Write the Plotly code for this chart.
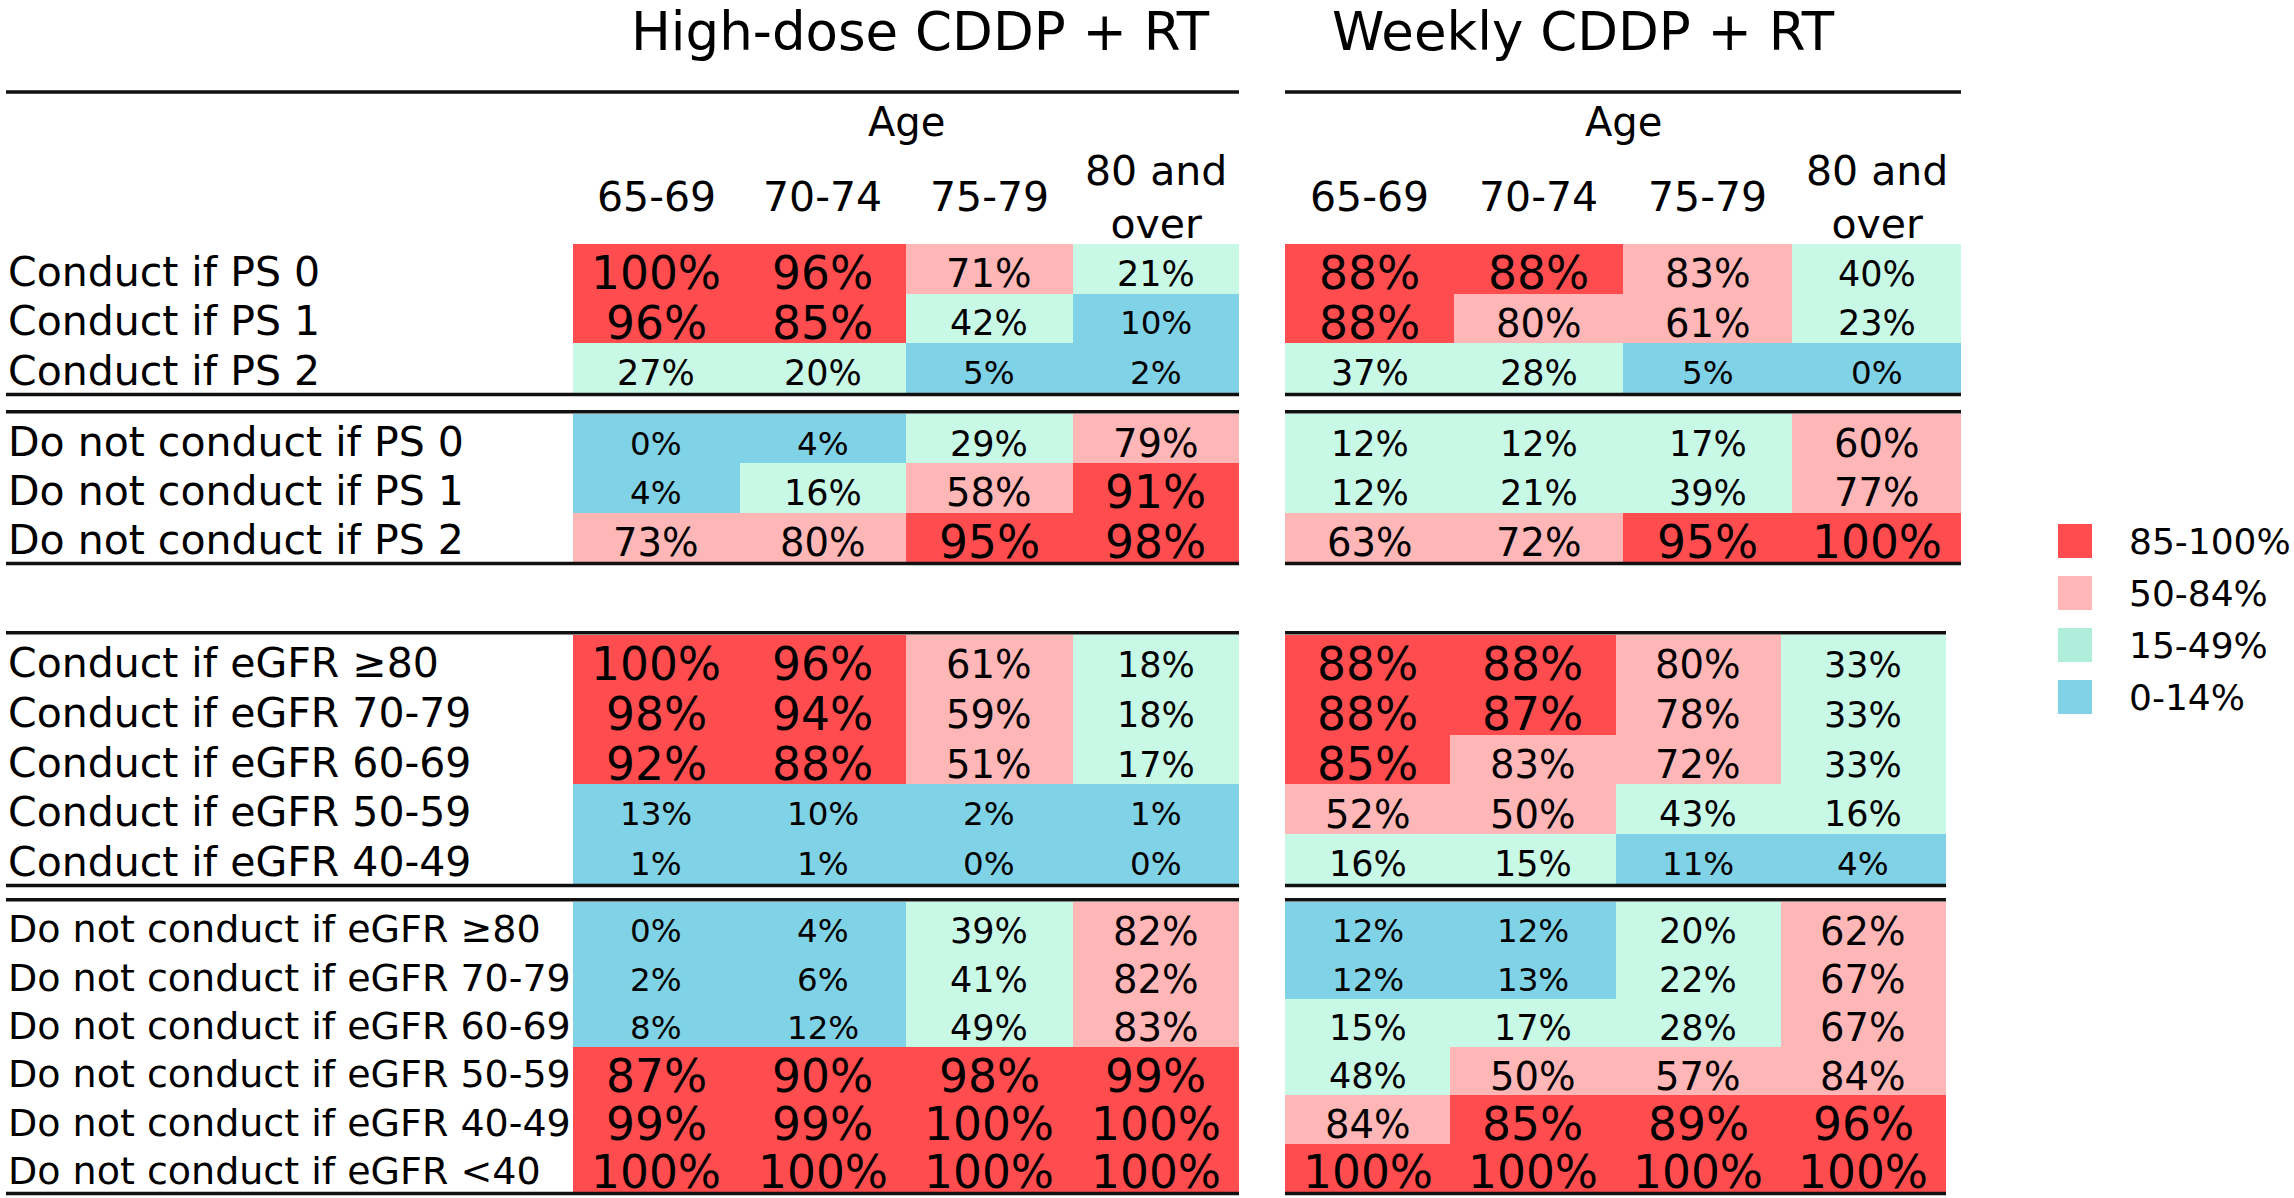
import plotly.graph_objects as go

# ---------------------------------------------------------------- data
AGES = ["65-69", "70-74", "75-79", "80 and over"]
AGE_HEADERS = ["65-69", "70-74", "75-79", "80 and<br>over"]
TABLE_TITLES = ["High-dose CDDP + RT", "Weekly CDDP + RT"]
AXIS_TITLE = "Age"

PS_CONDUCT_ROWS = ["Conduct if PS 0", "Conduct if PS 1", "Conduct if PS 2"]
PS_NOT_ROWS = ["Do not conduct if PS 0", "Do not conduct if PS 1", "Do not conduct if PS 2"]
EGFR_CONDUCT_ROWS = ["Conduct if eGFR \u226580", "Conduct if eGFR 70-79", "Conduct if eGFR 60-69",
                     "Conduct if eGFR 50-59", "Conduct if eGFR 40-49"]
EGFR_NOT_ROWS = ["Do not conduct if eGFR \u226580", "Do not conduct if eGFR 70-79",
                 "Do not conduct if eGFR 60-69", "Do not conduct if eGFR 50-59",
                 "Do not conduct if eGFR 40-49", "Do not conduct if eGFR <40"]

HIGH_PS_CONDUCT = [[100, 96, 71, 21], [96, 85, 42, 10], [27, 20, 5, 2]]
HIGH_PS_NOT = [[0, 4, 29, 79], [4, 16, 58, 91], [73, 80, 95, 98]]
HIGH_EGFR_CONDUCT = [[100, 96, 61, 18], [98, 94, 59, 18], [92, 88, 51, 17], [13, 10, 2, 1], [1, 1, 0, 0]]
HIGH_EGFR_NOT = [[0, 4, 39, 82], [2, 6, 41, 82], [8, 12, 49, 83], [87, 90, 98, 99],
                 [99, 99, 100, 100], [100, 100, 100, 100]]

WEEKLY_PS_CONDUCT = [[88, 88, 83, 40], [88, 80, 61, 23], [37, 28, 5, 0]]
WEEKLY_PS_NOT = [[12, 12, 17, 60], [12, 21, 39, 77], [63, 72, 95, 100]]
WEEKLY_EGFR_CONDUCT = [[88, 88, 80, 33], [88, 87, 78, 33], [85, 83, 72, 33], [52, 50, 43, 16], [16, 15, 11, 4]]
WEEKLY_EGFR_NOT = [[12, 12, 20, 62], [12, 13, 22, 67], [15, 17, 28, 67], [48, 50, 57, 84],
                   [84, 85, 89, 96], [100, 100, 100, 100]]

SHADE_LABELS = ["0-14%", "15-49%", "50-84%", "85-100%"]
SHADE_LOWER = [0, 15, 50, 85]
# cells that the source figure shades in a different band than their value suggests
# (table, group, row, column) -> band index
SHADE_OVERRIDES = {(1, 1, 0, 0): 1, (1, 1, 0, 1): 1, (1, 1, 1, 0): 1}

# ---------------------------------------------------------------- style
W, H = 2294, 1198
FONT = "DejaVu Sans"
CELL_COLORS = ["#80D3E6", "#C8F8E6", "#FFB6B6", "#FF4D4F"]
LEGEND_COLORS = ["#80D3E6", "#AEEEDA", "#FFB6B6", "#FF4D4F"]
VALUE_FONT = [32.5, 35, 38.5, 45.5]
LABEL_FONT = [41, 41, 41, 38]
LINE_COLOR = "#111111"
VALUE_SHIFT = -5
LABEL_SHIFT = -3

TABLE_X_UPPER = [(573, 1239), (1285, 1961)]
TABLE_X_LOWER = [(573, 1239), (1285, 1946)]
LABEL_X = 6
GROUP_Y = [(244, 393), (414, 562), (635, 884), (902, 1192)]

GROUPS = [
    (PS_CONDUCT_ROWS, HIGH_PS_CONDUCT, WEEKLY_PS_CONDUCT),
    (PS_NOT_ROWS, HIGH_PS_NOT, WEEKLY_PS_NOT),
    (EGFR_CONDUCT_ROWS, HIGH_EGFR_CONDUCT, WEEKLY_EGFR_CONDUCT),
    (EGFR_NOT_ROWS, HIGH_EGFR_NOT, WEEKLY_EGFR_NOT),
]


def px(x):
    return x / W


def py(y):
    return 1 - y / H


def band(v):
    b = 0
    for i, lo in enumerate(SHADE_LOWER):
        if v >= lo:
            b = i
    return b


n = len(SHADE_LABELS)
colorscale = []
for i, c in enumerate(CELL_COLORS):
    colorscale.append([i / n, c])
    colorscale.append([(i + 1) / n, c])

fig = go.Figure()
layout = dict(
    width=W, height=H, margin=dict(l=0, r=0, t=0, b=0),
    paper_bgcolor="white", plot_bgcolor="white", showlegend=False,
    font=dict(family=FONT, color="black"),
)
annotations = []
shapes = []

ax = 0
for g, (rows, *tables) in enumerate(GROUPS):
    y0, y1 = GROUP_Y[g]
    for t, vals in enumerate(tables):
        ax += 1
        xs = TABLE_X_UPPER[t] if g < 2 else TABLE_X_LOWER[t]
        xname = "x" if ax == 1 else f"x{ax}"
        yname = "y" if ax == 1 else f"y{ax}"
        z = []
        for r, rowvals in enumerate(vals):
            zr = []
            for c, v in enumerate(rowvals):
                b = SHADE_OVERRIDES.get((t, g, r, c), band(v))
                zr.append(b)
                annotations.append(dict(
                    text=f"{v}%", xref=xname, x=AGES[c], xanchor="center",
                    yref=yname, y=rows[r], yanchor="middle", yshift=VALUE_SHIFT,
                    showarrow=False, font=dict(family=FONT, size=VALUE_FONT[b], color="black")))
            z.append(zr)
        fig.add_trace(go.Heatmap(
            x=AGES, y=rows, z=z, zmin=-0.5, zmax=n - 0.5, colorscale=colorscale,
            showscale=False, hoverinfo="skip", xaxis=xname, yaxis=yname,
        ))
        layout["xaxis" if ax == 1 else f"xaxis{ax}"] = dict(
            domain=[px(xs[0]), px(xs[1])], anchor=yname, visible=False,
            type="category", range=[-0.5, len(AGES) - 0.5], fixedrange=True)
        layout["yaxis" if ax == 1 else f"yaxis{ax}"] = dict(
            domain=[py(y1), py(y0)], anchor=xname, visible=False,
            type="category", range=[len(rows) - 0.5, -0.5], fixedrange=True)

        # row labels (left table only)
        if t == 0:
            for rlab in rows:
                annotations.append(dict(
                    text=rlab, xref="paper", x=px(LABEL_X), xanchor="left",
                    yref=yname, y=rlab, yanchor="middle", yshift=LABEL_SHIFT, showarrow=False,
                    font=dict(family=FONT, size=LABEL_FONT[g], color="black")))
        # column headers (top group only)
        if g == 0:
            for a, lab in zip(AGES, AGE_HEADERS):
                annotations.append(dict(
                    text=lab, xref=xname, x=a, xanchor="center", yref="paper", y=py(197),
                    yanchor="middle", showarrow=False,
                    font=dict(family=FONT, size=41, color="black")))
            annotations.append(dict(
                text=AXIS_TITLE, xref="paper", x=px((xs[0] + xs[1]) / 2), xanchor="center",
                yref="paper", y=py(122), yanchor="middle", showarrow=False,
                font=dict(family=FONT, size=40, color="black")))

        # table rules
        lx0 = LABEL_X if t == 0 else xs[0]
        lx1 = xs[1]
        rule = dict(type="line", xref="paper", yref="paper", x0=px(lx0), x1=px(lx1),
                    line=dict(color=LINE_COLOR, width=3.5))
        shapes.append({**rule, "y0": py(y1 + 1.5), "y1": py(y1 + 1.5)})
        if g > 0:
            shapes.append({**rule, "y0": py(y0 - 2.3), "y1": py(y0 - 2.3)})
        if g == 0:
            shapes.append({**rule, "y0": py(92), "y1": py(92)})

# table titles
for tt_text, cx in zip(TABLE_TITLES, [920, 1583]):
    annotations.append(dict(
        text=tt_text, xref="paper", x=px(cx), xanchor="center", yref="paper", y=py(31),
        yanchor="middle", showarrow=False, font=dict(family=FONT, size=53, color="black")))

# legend (manual, large square swatches)
ax += 1
legend_order = list(range(n))[::-1]
fig.add_trace(go.Scatter(
    x=[0] * n, y=[SHADE_LABELS[i] for i in legend_order], mode="markers",
    marker=dict(symbol="square", size=34, color=[LEGEND_COLORS[i] for i in legend_order],
                line=dict(width=0)),
    hoverinfo="skip", xaxis=f"x{ax}", yaxis=f"y{ax}",
))
layout[f"xaxis{ax}"] = dict(domain=[px(2040), px(2110)], anchor=f"y{ax}", visible=False,
                            range=[-1, 1], fixedrange=True)
layout[f"yaxis{ax}"] = dict(domain=[py(723), py(515)], anchor=f"x{ax}", visible=False,
                            type="category", range=[n - 0.5, -0.5], fixedrange=True)
for i in legend_order:
    annotations.append(dict(
        text=SHADE_LABELS[i], xref="paper", x=px(2127), xanchor="left",
        yref=f"y{ax}", y=SHADE_LABELS[i], yanchor="middle", showarrow=False,
        font=dict(family=FONT, size=36, color="black")))

layout["annotations"] = annotations
layout["shapes"] = shapes
fig.update_layout(**layout)
fig.write_html(
    "out.html",
    config={"displayModeBar": False},
    post_script="document.body.style.margin='0px';document.body.style.overflow='hidden';",
)
